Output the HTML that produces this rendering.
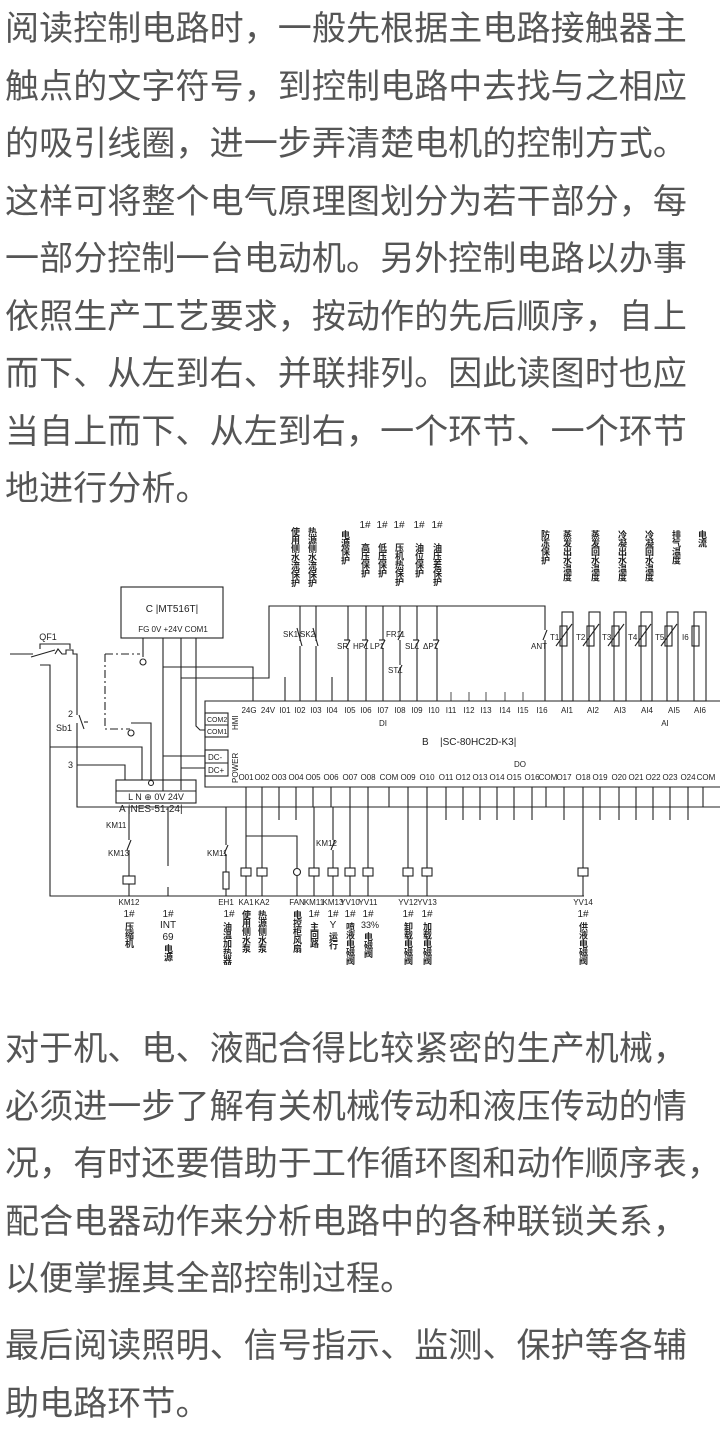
<!DOCTYPE html>
<html><head><meta charset="utf-8">
<style>
html,body{margin:0;padding:0;background:#fff;}
body{width:720px;height:1440px;position:relative;overflow:hidden;font-family:"Liberation Sans","Noto Sans CJK SC",sans-serif;}
.p{position:absolute;left:5px;width:715px;font-size:34px;line-height:57.5px;color:#555;white-space:nowrap;letter-spacing:0.1px;}
.v{position:absolute;writing-mode:vertical-rl;font-size:9px;line-height:10px;color:#222;font-family:"Noto Sans CJK SC",sans-serif;letter-spacing:-0.5px;font-weight:bold;}
</style></head><body>
<div class="p" style="top:1px">阅读控制电路时，一般先根据主电路接触器主<br>触点的文字符号，到控制电路中去找与之相应<br>的吸引线圈，进一步弄清楚电机的控制方式。<br>这样可将整个电气原理图划分为若干部分，每<br>一部分控制一台电动机。另外控制电路以办事<br>依照生产工艺要求，按动作的先后顺序，自上<br>而下、从左到右、并联排列。因此读图时也应<br>当自上而下、从左到右，一个环节、一个环节<br>地进行分析。</div>
<div class="p" style="top:1021px">对于机、电、液配合得比较紧密的生产机械，<br>必须进一步了解有关机械传动和液压传动的情<br>况，有时还要借助于工作循环图和动作顺序表，<br>配合电器动作来分析电路中的各种联锁关系，<br>以便掌握其全部控制过程。</div>
<div class="p" style="top:1318px">最后阅读照明、信号指示、监测、保护等各辅<br>助电路环节。</div>

<svg width="720" height="1440" style="position:absolute;left:0;top:0" xmlns="http://www.w3.org/2000/svg">
<g stroke="#222" stroke-width="1.1" fill="none">
<rect x="121" y="587" width="102" height="51"/>
<polyline points="720,701 205,701 205,787 720,787"/>
<rect x="205" y="713" width="23" height="24"/><line x1="205" y1="725" x2="228" y2="725"/>
<rect x="205" y="750" width="23" height="26"/><line x1="205" y1="763" x2="228" y2="763"/>
<rect x="116" y="780" width="80" height="23"/><line x1="116" y1="791" x2="196" y2="791"/>
<line x1="10" y1="654" x2="33" y2="654"/><line x1="31" y1="657" x2="55" y2="650"/>
<polyline points="40,649 40,644 70,644 70,649"/>
<polyline points="55,654 58,649 62,654 66,654 66,650 73,650 73,654 77,654 77,715"/>
<polyline points="77,723 77,807 720,807"/>
<line x1="79" y1="715" x2="84" y2="729"/><line x1="84" y1="722" x2="88" y2="722"/>
<polyline points="40,665 50,665 50,896 584,896"/>
<line x1="163" y1="638" x2="163" y2="791"/>
<line x1="181" y1="638" x2="181" y2="790"/>
<polyline points="196,638 196,726 200,730 205,730"/>
<polyline points="163,667 253,667 253,701"/>
<polyline points="181,678 269,678 269,606 545,606 545,630"/>
<line x1="163" y1="756" x2="205" y2="756"/>
<line x1="181" y1="768" x2="205" y2="768"/>
<polyline points="50,747 142,747 142,780"/>
<polyline points="131,723 151,723 151,780"/>
<polyline points="77,765 125,765 125,780"/>
<line x1="143" y1="638" x2="143" y2="657"/>
<polyline points="105,654 105,729 130,729" stroke-dasharray="8,3,2,3"/>
<line x1="105" y1="654" x2="140" y2="654" stroke-dasharray="8,3,2,3"/>
<circle cx="143" cy="662" r="3"/><circle cx="131" cy="733" r="3"/><circle cx="151" cy="783" r="2.5"/>
<line x1="285" y1="677" x2="285" y2="701"/>
<line x1="300" y1="606" x2="300" y2="641"/><line x1="300" y1="646" x2="300" y2="701"/><line x1="297" y1="628" x2="302" y2="646"/>
<line x1="316" y1="606" x2="316" y2="641"/><line x1="316" y1="646" x2="316" y2="701"/><line x1="313" y1="628" x2="318" y2="646"/>
<line x1="332" y1="677" x2="332" y2="701"/>
<line x1="348" y1="606" x2="348" y2="640"/><line x1="348" y1="648" x2="348" y2="701"/><line x1="344" y1="640" x2="350" y2="640"/><line x1="350" y1="640" x2="346" y2="648"/>
<line x1="366" y1="606" x2="366" y2="640"/><line x1="366" y1="648" x2="366" y2="701"/><line x1="362" y1="640" x2="368" y2="640"/><line x1="368" y1="640" x2="364" y2="648"/>
<line x1="383" y1="606" x2="383" y2="640"/><line x1="383" y1="648" x2="383" y2="701"/><line x1="379" y1="640" x2="385" y2="640"/><line x1="385" y1="640" x2="381" y2="648"/>
<line x1="400" y1="606" x2="400" y2="632"/><line x1="400" y1="640" x2="400" y2="665"/><line x1="400" y1="673" x2="400" y2="701"/><line x1="402" y1="632" x2="398" y2="640"/><line x1="402" y1="665" x2="398" y2="673"/>
<line x1="417" y1="606" x2="417" y2="640"/><line x1="417" y1="648" x2="417" y2="701"/><line x1="413" y1="640" x2="419" y2="640"/><line x1="419" y1="640" x2="415" y2="648"/>
<line x1="437" y1="606" x2="437" y2="640"/><line x1="437" y1="648" x2="437" y2="701"/><line x1="433" y1="640" x2="439" y2="640"/><line x1="439" y1="640" x2="435" y2="648"/>
<line x1="545" y1="640" x2="545" y2="701"/><line x1="547" y1="630" x2="543" y2="640"/>
<g stroke-width="0.8">
<line x1="451" y1="692" x2="451" y2="701"/><line x1="469" y1="692" x2="469" y2="701"/><line x1="486" y1="692" x2="486" y2="701"/><line x1="505" y1="692" x2="505" y2="701"/><line x1="523" y1="692" x2="523" y2="701"/>
</g>
<rect x="562" y="612" width="11" height="89"/><rect x="560" y="626" width="7" height="20"/><line x1="556" y1="646" x2="572" y2="624"/>
<rect x="589" y="612" width="11" height="89"/><rect x="587" y="626" width="7" height="20"/><line x1="583" y1="646" x2="599" y2="624"/>
<rect x="614" y="612" width="12" height="89"/><rect x="612" y="626" width="7" height="20"/><line x1="608" y1="646" x2="624" y2="624"/>
<rect x="641" y="612" width="11" height="89"/><rect x="639" y="626" width="7" height="20"/><line x1="635" y1="646" x2="651" y2="624"/>
<rect x="667" y="612" width="11" height="89"/><rect x="665" y="626" width="7" height="20"/><line x1="661" y1="646" x2="677" y2="624"/>
<rect x="694" y="612" width="12" height="89"/><rect x="692" y="626" width="7" height="20"/>
<line x1="246" y1="787" x2="246" y2="807"/><line x1="262" y1="787" x2="262" y2="807"/><line x1="279" y1="787" x2="279" y2="820"/><line x1="296" y1="787" x2="296" y2="820"/><line x1="313" y1="787" x2="313" y2="807"/><line x1="331" y1="787" x2="331" y2="807"/><line x1="350" y1="787" x2="350" y2="807"/><line x1="368" y1="787" x2="368" y2="807"/><line x1="389" y1="787" x2="389" y2="807"/>
<line x1="408" y1="787" x2="408" y2="807"/><line x1="427" y1="787" x2="427" y2="807"/>
<line x1="446" y1="787" x2="446" y2="820"/><line x1="463" y1="787" x2="463" y2="820"/><line x1="480" y1="787" x2="480" y2="820"/><line x1="497" y1="787" x2="497" y2="820"/><line x1="514" y1="787" x2="514" y2="820"/><line x1="532" y1="787" x2="532" y2="820"/><line x1="546" y1="787" x2="546" y2="807"/><line x1="564" y1="787" x2="564" y2="820"/><line x1="583" y1="787" x2="583" y2="807"/><line x1="600" y1="787" x2="600" y2="820"/><line x1="619" y1="787" x2="619" y2="820"/><line x1="636" y1="787" x2="636" y2="820"/><line x1="653" y1="787" x2="653" y2="820"/><line x1="670" y1="787" x2="670" y2="820"/><line x1="688" y1="787" x2="688" y2="820"/><line x1="703" y1="787" x2="703" y2="807"/>
<line x1="129" y1="807" x2="129" y2="840"/><line x1="131" y1="840" x2="127" y2="850"/><line x1="129" y1="850" x2="129" y2="876"/><rect x="123" y="876" width="12" height="8"/><line x1="129" y1="884" x2="129" y2="896"/>
<line x1="168" y1="807" x2="168" y2="866"/><line x1="168" y1="887" x2="168" y2="896"/>
<line x1="226" y1="807" x2="226" y2="845"/><line x1="228" y1="845" x2="224" y2="854"/><line x1="226" y1="854" x2="226" y2="872"/><rect x="223" y="872" width="6" height="17"/><line x1="226" y1="889" x2="226" y2="896"/>
<line x1="246" y1="807" x2="246" y2="868"/><rect x="241" y="868" width="10" height="8"/><line x1="246" y1="876" x2="246" y2="896"/>
<line x1="262" y1="807" x2="262" y2="868"/><rect x="257" y="868" width="10" height="8"/><line x1="262" y1="876" x2="262" y2="896"/>
<polyline points="246,836 297,836 297,868"/><circle cx="297" cy="872" r="3.5"/><line x1="297" y1="876" x2="297" y2="896"/>
<line x1="314" y1="807" x2="314" y2="868"/><rect x="309" y="868" width="10" height="8"/><line x1="314" y1="876" x2="314" y2="896"/>
<line x1="333" y1="807" x2="333" y2="840"/><line x1="335" y1="840" x2="331" y2="850"/><line x1="333" y1="850" x2="333" y2="868"/><rect x="328" y="868" width="10" height="8"/><line x1="333" y1="876" x2="333" y2="896"/>
<line x1="350" y1="807" x2="350" y2="868"/><rect x="345" y="868" width="10" height="8"/><line x1="350" y1="876" x2="350" y2="896"/>
<line x1="368" y1="807" x2="368" y2="868"/><rect x="363" y="868" width="10" height="8"/><line x1="368" y1="876" x2="368" y2="896"/>
<line x1="408" y1="807" x2="408" y2="868"/><rect x="403" y="868" width="10" height="8"/><line x1="408" y1="876" x2="408" y2="896"/>
<line x1="427" y1="807" x2="427" y2="868"/><rect x="422" y="868" width="10" height="8"/><line x1="427" y1="876" x2="427" y2="896"/>
<line x1="583" y1="807" x2="583" y2="868"/><rect x="578" y="868" width="10" height="8"/><line x1="583" y1="876" x2="583" y2="896"/>
</g>
<g font-family="Liberation Sans, sans-serif" font-size="9" fill="#222">
<text x="172" y="612" text-anchor="middle" font-size="10">C  |MT516T|</text>
<text x="173" y="632" text-anchor="middle" font-size="8">FG   0V +24V  COM1</text>
<text x="48" y="640" text-anchor="middle">QF1</text>
<text x="68" y="717">2</text><text x="56" y="731">Sb1</text><text x="68" y="768">3</text>
<text x="156" y="800" text-anchor="middle">L    N  ⊕ 0V    24V</text>
<text x="119" y="812" font-size="10">A  |NES-51-24|</text>
<text x="207" y="722" font-size="7">COM2</text><text x="207" y="734" font-size="7">COM1</text>
<text x="208" y="760" font-size="8">DC-</text><text x="208" y="773" font-size="8">DC+</text>
<text x="238" y="730" font-size="8" transform="rotate(-90 238 730)">HMI</text>
<text x="238" y="783" font-size="8" transform="rotate(-90 238 783)">POWER</text>
<g font-size="8" text-anchor="middle">
<text x="249" y="713">24G</text><text x="268" y="713">24V</text><text x="285" y="713">I01</text><text x="300" y="713">I02</text><text x="316" y="713">I03</text><text x="332" y="713">I04</text><text x="350" y="713">I05</text><text x="366" y="713">I06</text><text x="383" y="713">I07</text><text x="400" y="713">I08</text><text x="417" y="713">I09</text><text x="434" y="713">I10</text><text x="451" y="713">I11</text><text x="469" y="713">I12</text><text x="486" y="713">I13</text><text x="505" y="713">I14</text><text x="523" y="713">I15</text><text x="542" y="713">I16</text>
<text x="567" y="713">AI1</text><text x="593" y="713">AI2</text><text x="620" y="713">AI3</text><text x="647" y="713">AI4</text><text x="674" y="713">AI5</text><text x="700" y="713">AI6</text>
<text x="383" y="726">DI</text><text x="665" y="726">AI</text>
<text x="520" y="767">DO</text>
<text x="246" y="780">O01</text><text x="262" y="780">O02</text><text x="279" y="780">O03</text><text x="296" y="780">O04</text><text x="313" y="780">O05</text><text x="331" y="780">O06</text><text x="350" y="780">O07</text><text x="368" y="780">O08</text><text x="389" y="780">COM</text><text x="408" y="780">O09</text><text x="427" y="780">O10</text><text x="446" y="780">O11</text><text x="463" y="780">O12</text><text x="480" y="780">O13</text><text x="497" y="780">O14</text><text x="514" y="780">O15</text><text x="532" y="780">O16</text><text x="548" y="780">COM</text><text x="564" y="780">O17</text><text x="583" y="780">O18</text><text x="600" y="780">O19</text><text x="619" y="780">O20</text><text x="636" y="780">O21</text><text x="653" y="780">O22</text><text x="670" y="780">O23</text><text x="688" y="780">O24</text><text x="706" y="780">COM</text>
</g>
<text x="422" y="745" font-size="10">B</text><text x="440" y="745" font-size="10">|SC-80HC2D-K3|</text>
<g font-size="8">
<text x="283" y="637">SK1</text><text x="300" y="637">SK2</text><text x="337" y="649">SR</text><text x="353" y="649">HP1</text><text x="370" y="649">LP1</text><text x="386" y="637">FR11</text><text x="388" y="673">ST1</text><text x="405" y="649">SL1</text><text x="423" y="649">ΔP1</text><text x="531" y="649">ANT</text>
<text x="550" y="640">T1</text><text x="576" y="640">T2</text><text x="602" y="640">T3</text><text x="628" y="640">T4</text><text x="655" y="640">T5</text><text x="682" y="640">I6</text>
<text x="106" y="828">KM11</text><text x="108" y="856">KM13</text><text x="207" y="856">KM11</text><text x="316" y="846">KM12</text>
</g>
<g font-size="8" text-anchor="middle">
<text x="129" y="905">KM12</text><text x="226" y="905">EH1</text><text x="246" y="905">KA1</text><text x="262" y="905">KA2</text><text x="297" y="905">FAN</text><text x="314" y="905">KM11</text><text x="333" y="905">KM13</text><text x="350" y="905">YV10</text><text x="368" y="905">YV11</text><text x="408" y="905">YV12</text><text x="427" y="905">YV13</text><text x="583" y="905">YV14</text>
<text x="129" y="917" font-size="10">1#</text><text x="168" y="917" font-size="10">1#</text><text x="168" y="928" font-size="10">INT</text><text x="168" y="940" font-size="10">69</text><text x="229" y="917" font-size="10">1#</text><text x="314" y="917" font-size="10">1#</text><text x="333" y="917" font-size="10">1#</text><text x="333" y="928" font-size="10">Y</text><text x="350" y="917" font-size="10">1#</text><text x="368" y="917" font-size="10">1#</text><text x="370" y="928" font-size="9">33%</text><text x="408" y="917" font-size="10">1#</text><text x="427" y="917" font-size="10">1#</text><text x="583" y="917" font-size="10">1#</text>
<text x="365" y="528" font-size="10">1#</text><text x="382" y="528" font-size="10">1#</text><text x="399" y="528" font-size="10">1#</text><text x="419" y="528" font-size="10">1#</text><text x="437" y="528" font-size="10">1#</text>
</g>
</g>
</svg>
<div class="v" style="left:290px;top:527px">使用侧水流保护</div>
<div class="v" style="left:307px;top:527px">热源侧水流保护</div>
<div class="v" style="left:340px;top:530px">电源保护</div>
<div class="v" style="left:360px;top:543px">高压保护</div>
<div class="v" style="left:377px;top:543px">低压保护</div>
<div class="v" style="left:394px;top:543px">压机热保护</div>
<div class="v" style="left:414px;top:543px">油位保护</div>
<div class="v" style="left:432px;top:543px">油压差保护</div>
<div class="v" style="left:540px;top:530px">防冻保护</div>
<div class="v" style="left:562px;top:530px">蒸发出水温度</div>
<div class="v" style="left:590px;top:530px">蒸发回水温度</div>
<div class="v" style="left:617px;top:530px">冷凝出水温度</div>
<div class="v" style="left:644px;top:530px">冷凝回水温度</div>
<div class="v" style="left:671px;top:530px">排气温度</div>
<div class="v" style="left:697px;top:530px">电流</div>
<div class="v" style="left:124px;top:922px">压缩机</div>
<div class="v" style="left:163px;top:944px">电源</div>
<div class="v" style="left:222px;top:922px">油温加热器</div>
<div class="v" style="left:241px;top:910px">使用侧水泵</div>
<div class="v" style="left:257px;top:910px">热源侧水泵</div>
<div class="v" style="left:292px;top:910px">电控柜风扇</div>
<div class="v" style="left:309px;top:922px">主回路</div>
<div class="v" style="left:328px;top:932px">运行</div>
<div class="v" style="left:345px;top:922px">喷液电磁阀</div>
<div class="v" style="left:363px;top:932px">电磁阀</div>
<div class="v" style="left:403px;top:922px">卸载电磁阀</div>
<div class="v" style="left:422px;top:922px">加载电磁阀</div>
<div class="v" style="left:578px;top:922px">供液电磁阀</div>
</body></html>
